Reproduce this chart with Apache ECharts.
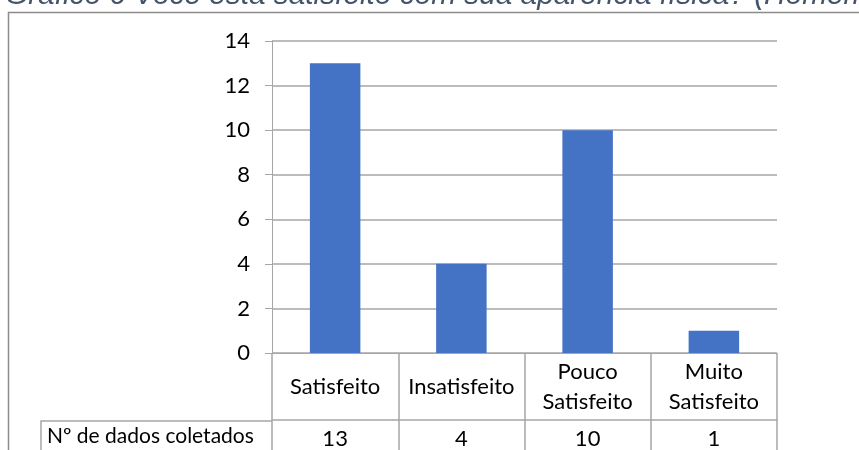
<!DOCTYPE html>
<html>
<head>
<meta charset="utf-8">
<style>
  html, body { margin: 0; padding: 0; background: #fff; }
  #chart { width: 859px; height: 450px; }
</style>
<script src="https://cdn.jsdelivr.net/npm/echarts@6/dist/echarts.min.js"></script>
</head>
<body>
<div id="chart"></div>
<script>
// Survey answers and counts
var categories = ['Satisfeito', 'Insatisfeito', 'Pouco Satisfeito', 'Muito Satisfeito'];
var counts = [13, 4, 10, 1];
var yTicks = [0, 2, 4, 6, 8, 10, 12, 14];
var rowLabel = 'Nº de dados coletados';
var titleText = 'Gráfico 6 Você está satisfeito com sua aparência física? (Homem Homossexual)';

var FONT = 'Lato, Carlito, sans-serif';
var LINE = '#a6a6a6';

var chart = echarts.init(document.getElementById('chart'), null, { renderer: 'canvas' });

chart.setOption({
  animation: false,
  backgroundColor: '#fff',
  title: {
    text: titleText,
    left: 5,
    top: -19,
    padding: 0,
    textStyle: {
      fontFamily: 'Liberation Sans, Arial, sans-serif',
      fontStyle: 'italic',
      fontWeight: 'normal',
      fontSize: 29.8,
      color: '#44546A'
    }
  },
  grid: { left: 272, right: 82, top: 41, bottom: 96, containLabel: false },
  xAxis: [
    {
      type: 'category',
      data: categories,
      position: 'bottom',
      axisLine: { show: true, lineStyle: { color: LINE, width: 1 } },
      axisTick: { show: true, length: 100, alignWithLabel: false, lineStyle: { color: LINE, width: 1.5 } },
      axisLabel: {
        interval: 0,
        margin: 34,
        verticalAlign: 'middle',
        fontFamily: FONT,
        fontSize: 22,
        lineHeight: 30,
        color: '#000',
        formatter: function (v) { return v.replace(' ', '\n'); }
      },
      splitLine: { show: false }
    },
    {
      type: 'category',
      data: categories,
      position: 'bottom',
      offset: 67,
      axisLine: { show: true, lineStyle: { color: LINE, width: 1.5 } },
      axisTick: { show: false },
      axisLabel: {
        interval: 0,
        margin: 19,
        verticalAlign: 'middle',
        fontFamily: FONT,
        fontSize: 22,
        color: '#000',
        formatter: function (v, i) { return String(counts[i]); }
      }
    }
  ],
  yAxis: {
    type: 'value',
    min: yTicks[0],
    max: yTicks[yTicks.length - 1],
    interval: yTicks[1] - yTicks[0],
    axisLine: { show: true, lineStyle: { color: LINE, width: 1 } },
    axisTick: { show: true, length: 7, lineStyle: { color: LINE, width: 1 } },
    axisLabel: {
      margin: 22,
      fontFamily: FONT,
      fontSize: 22,
      color: '#000'
    },
    splitLine: { show: true, lineStyle: { color: LINE, width: 1.5 } }
  },
  series: [
    {
      type: 'bar',
      data: counts,
      xAxisIndex: 0,
      barWidth: '40%',
      itemStyle: { color: '#4472C4' }
    }
  ],
  graphic: [
    // outer chart frame
    {
      type: 'rect',
      shape: { x: 8.5, y: 12.5, width: 1000, height: 600 },
      style: { fill: 'none', stroke: '#8c8c8c', lineWidth: 1.5 },
      silent: true
    },
    // row header cell of the data table
    {
      type: 'polyline',
      shape: { points: [[41, 460], [41, 421], [272, 421]] },
      style: { fill: 'none', stroke: LINE, lineWidth: 1.5 },
      silent: true
    },
    {
      type: 'text',
      left: 47,
      top: 426,
      style: { text: rowLabel, font: '21px ' + FONT, fill: '#000' },
      silent: true
    }
  ]
});
</script>
</body>
</html>
